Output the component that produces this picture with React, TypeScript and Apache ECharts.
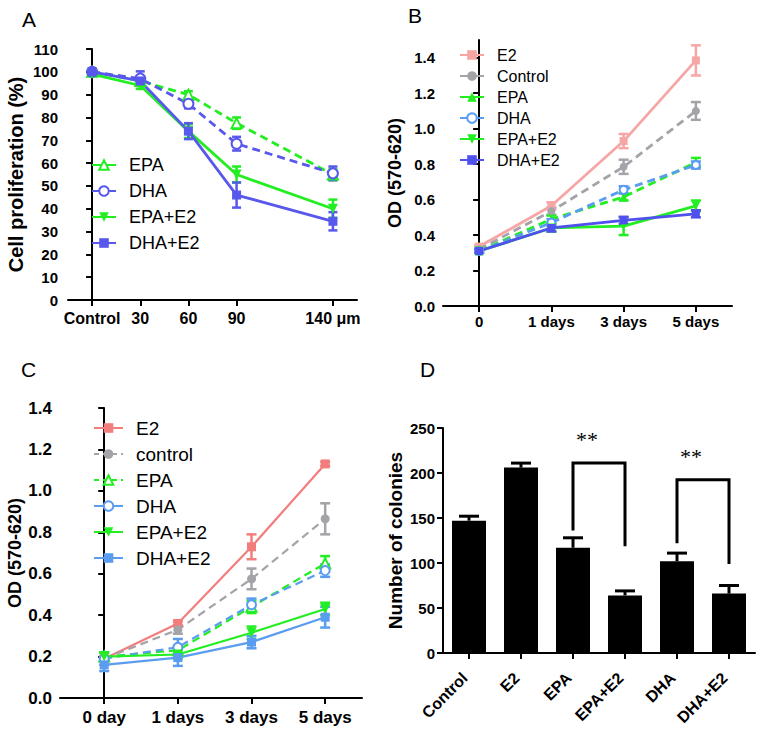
import React, { useEffect, useRef } from 'react';
import * as echarts from 'echarts';

// ---------- Panel A ----------
const aXPos = [0, 1, 2, 3, 5];
const aXLabels = ['Control', '30', '60', '90', '140 μm'];
const aYTicks = [0, 10, 20, 30, 40, 50, 60, 70, 80, 90, 100, 110];
const aEPA = [100, 96, 90, 77.5, 55];
const aEPAErr = [0.5, 1.5, 1.5, 2.5, 2.5];
const aDHA = [100, 97, 86, 68.5, 55.5];
const aDHAErr = [0.5, 3.2, 2, 3, 3];
const aEPAE2 = [99, 94, 74, 55, 40];
const aEPAE2Err = [0.5, 1.5, 3, 3.5, 4];
const aDHAE2 = [100, 96, 74, 46, 34.5];
const aDHAE2Err = [0.5, 2, 3.5, 5.5, 4];

// ---------- Panel B ----------
const bXPos = [0, 1, 2, 3];
const bXLabels = ['0', '1 days', '3 days', '5 days'];
const bYTicks = [0, 0.2, 0.4, 0.6, 0.8, 1.0, 1.2, 1.4];
const bE2 = [0.335, 0.565, 0.93, 1.385];
const bE2Err = [0.01, 0.02, 0.04, 0.085];
const bControl = [0.32, 0.535, 0.785, 1.1];
const bControlErr = [0.01, 0.02, 0.04, 0.05];
const bEPA = [0.31, 0.49, 0.615, 0.81];
const bEPAErr = [0.01, 0.02, 0.02, 0.025];
const bDHA = [0.31, 0.47, 0.655, 0.795];
const bDHAErr = [0.01, 0.02, 0.02, 0.02];
const bEPAE2 = [0.31, 0.44, 0.45, 0.565];
const bEPAE2Err = [0.01, 0.02, 0.05, 0.03];
const bDHAE2 = [0.31, 0.44, 0.483, 0.52];
const bDHAE2Err = [0.01, 0.02, 0.02, 0.02];

// ---------- Panel C ----------
const cXPos = [0, 1, 2, 3];
const cXLabels = ['0 day', '1 days', '3 days', '5 days'];
const cYTicks = [0, 0.2, 0.4, 0.6, 0.8, 1.0, 1.2, 1.4];
const cE2 = [0.19, 0.36, 0.73, 1.13];
const cE2Err = [0.01, 0.01, 0.06, 0.01];
const cControl = [0.19, 0.33, 0.575, 0.865];
const cControlErr = [0.01, 0.02, 0.05, 0.075];
const cEPA = [0.2, 0.23, 0.44, 0.65];
const cEPAErr = [0.02, 0.02, 0.03, 0.035];
const cDHA = [0.19, 0.245, 0.45, 0.615];
const cDHAErr = [0.03, 0.04, 0.03, 0.03];
const cEPAE2 = [0.2, 0.21, 0.315, 0.43];
const cEPAE2Err = [0.02, 0.02, 0.03, 0.03];
const cDHAE2 = [0.16, 0.195, 0.27, 0.39];
const cDHAE2Err = [0.03, 0.04, 0.03, 0.05];

// ---------- Panel D ----------
const dCats = ['Control', 'E2', 'EPA', 'EPA+E2', 'DHA', 'DHA+E2'];
const dValues = [147, 206, 117, 64, 102, 66];
const dErr = [5, 5, 11, 5, 9, 9];
const dBracketFrom = [2, 4];
const dBracketTo = [3, 5];
const dBracketTop = [211, 192.6];
const dBracketLeftEnd = [136, 122];
const dBracketRightEnd = [118.5, 99];
const dStarY = [237, 218];
const dStarText = ['**', '**'];

const FONT = "'Liberation Sans', Arial, sans-serif";
const GREEN = '#22ee22';
const BLUE_A = '#5858ec';
const PINK_B = '#f7a6a6';
const GRAY = '#a3a3a8';
const LBLUE = '#5a9cf0';
const PURPLE = '#5050ee';
const SALMON = '#f27d7d';
const DOWN_TRI = 'path://M0,0L10,0L5,9Z';

function errSeries(idx: number, color: string, xs: number[], means: number[], errs: number[], cap: number, lw: number, upperOnly = false) {
  return {
    type: 'custom',
    xAxisIndex: idx,
    yAxisIndex: idx,
    silent: true,
    z: 4,
    data: means.map((m, i) => [xs[i], upperOnly ? m : m - errs[i], m + errs[i]]),
    encode: { x: 0, y: [1, 2] },
    renderItem: (_p: any, api: any) => {
      const x = api.value(0);
      const p1 = api.coord([x, api.value(2)]);
      const p2 = api.coord([x, api.value(1)]);
      const h = cap / 2;
      const style = { stroke: color, lineWidth: lw, fill: null };
      const children: any[] = [
        { type: 'line', shape: { x1: p1[0], y1: p1[1], x2: p2[0], y2: p2[1] }, style },
        { type: 'line', shape: { x1: p1[0] - h, y1: p1[1], x2: p1[0] + h, y2: p1[1] }, style },
      ];
      if (!upperOnly) {
        children.push({ type: 'line', shape: { x1: p2[0] - h, y1: p2[1], x2: p2[0] + h, y2: p2[1] }, style });
      }
      return { type: 'group', children };
    },
  };
}

function lineSeries(name: string, idx: number, color: string, xs: number[], ys: number[], dashed: boolean, symbol: string, size: number, lw: number) {
  return {
    type: 'line',
    name,
    xAxisIndex: idx,
    yAxisIndex: idx,
    data: ys.map((y, i) => [xs[i], y]),
    symbol,
    symbolSize: size,
    showSymbol: true,
    lineStyle: { color, width: lw, type: dashed ? [8, 5] : 'solid' },
    itemStyle: { color },
    z: 5,
  };
}

const axisLine = { show: true, lineStyle: { color: '#000', width: 2 } };
const axisTick = (vals?: number[]) => ({
  show: true,
  inside: false,
  length: 6,
  lineStyle: { color: '#000', width: 2 },
  ...(vals ? { customValues: vals } : {}),
});

function legend(prefix: string, names: string[], dashedNames: string[], left: number, top: number, fontSize: number, lineHeight: number, gap: number, itemWidth: number) {
  return {
    orient: 'vertical',
    left,
    top,
    itemWidth,
    itemHeight: 12,
    itemGap: gap,
    selectedMode: false,
    data: names.map((n) => ({ name: prefix + '|' + n, lineStyle: { type: dashedNames.includes(n) ? [5, 4] : 'solid' } })),
    formatter: (n: string) => n.split('|')[1],
    textStyle: { fontSize, fontFamily: FONT, color: '#000', lineHeight, padding: [0, 0, 0, 8] },
  };
}

export default function App() {
  const ref = useRef<HTMLDivElement>(null);
  useEffect(() => {
    if (!ref.current) return;
    const chart = echarts.init(ref.current, undefined, { renderer: 'svg' });
    const titleStyle = { fontSize: 21, fontWeight: 'normal', color: '#000', fontFamily: FONT };
    const option: any = {
      animation: false,
      backgroundColor: '#fff',
      title: [
        { text: 'A', left: 22, top: 9, textStyle: titleStyle, padding: 0 },
        { text: 'B', left: 408, top: 5, textStyle: titleStyle, padding: 0 },
        { text: 'C', left: 21, top: 359, textStyle: titleStyle, padding: 0 },
        { text: 'D', left: 420, top: 359, textStyle: titleStyle, padding: 0 },
      ],
      legend: [
        legend('A', ['EPA', 'DHA', 'EPA+E2', 'DHA+E2'], [], 86, 150, 18, 20, 6, 24),
        legend('B', ['E2', 'Control', 'EPA', 'DHA', 'EPA+E2', 'DHA+E2'], [], 454, 42, 16, 16, 5, 24),
        legend('C', ['E2', 'control', 'EPA', 'DHA', 'EPA+E2', 'DHA+E2'], ['control', 'EPA'], 88, 413, 19, 20, 6, 29),
      ],
      grid: [
        { left: 68, top: 49, width: 289, height: 251, containLabel: false },
        { left: 443, top: 40, width: 289, height: 266, containLabel: false },
        { left: 60, top: 408, width: 302, height: 290, containLabel: false },
        { left: 443, top: 428, width: 312, height: 225, containLabel: false },
      ],
      xAxis: [
        {
          type: 'value', gridIndex: 0, min: -0.5, max: 5.5, splitLine: { show: false }, axisLine, axisTick: axisTick(aXPos),
          axisLabel: { customValues: aXPos, margin: 10, formatter: (v: number) => aXLabels[aXPos.indexOf(v)] ?? '', fontSize: 16, fontWeight: 'bold', color: '#000', fontFamily: FONT },
        },
        {
          type: 'value', gridIndex: 1, min: -0.5, max: 3.5, splitLine: { show: false }, axisLine, axisTick: axisTick(bXPos),
          axisLabel: { customValues: bXPos, margin: 8, formatter: (v: number) => bXLabels[bXPos.indexOf(v)] ?? '', fontSize: 15, fontWeight: 'bold', color: '#000', fontFamily: FONT },
        },
        {
          type: 'value', gridIndex: 2, min: -0.6, max: 3.5, splitLine: { show: false }, axisLine, axisTick: axisTick(cXPos),
          axisLabel: { customValues: cXPos, margin: 11, formatter: (v: number) => cXLabels[cXPos.indexOf(v)] ?? '', fontSize: 17, fontWeight: 'bold', color: '#000', fontFamily: FONT },
        },
        {
          type: 'category', gridIndex: 3, data: dCats, axisLine, axisTick: { ...axisTick(), alignWithLabel: true },
          axisLabel: { rotate: 45, margin: 18, fontSize: 16, fontWeight: 'bold', color: '#000', fontFamily: FONT, interval: 0, padding: [0, 6, 12, 0] },
        },
      ],
      yAxis: [
        {
          type: 'value', gridIndex: 0, min: 0, max: 110, interval: 10, splitLine: { show: false }, axisLine, axisTick: axisTick(aYTicks),
          axisLabel: { customValues: aYTicks, margin: 10, fontSize: 15, fontWeight: 'bold', color: '#000', fontFamily: FONT },
          name: 'Cell proliferation (%)', nameLocation: 'middle', nameGap: 42,
          nameTextStyle: { fontSize: 20, fontWeight: 'bold', color: '#000', fontFamily: FONT },
        },
        {
          type: 'value', gridIndex: 1, min: 0, max: 1.5, splitLine: { show: false }, axisLine, axisTick: axisTick(bYTicks),
          axisLabel: { customValues: bYTicks, margin: 8, formatter: (v: number) => v.toFixed(1), fontSize: 15, fontWeight: 'bold', color: '#000', fontFamily: FONT },
          name: 'OD (570-620)', nameLocation: 'middle', nameGap: 39,
          nameTextStyle: { fontSize: 18, fontWeight: 'bold', color: '#000', fontFamily: FONT },
        },
        {
          type: 'value', gridIndex: 2, min: 0, max: 1.4, splitLine: { show: false }, axisLine, axisTick: axisTick(cYTicks),
          axisLabel: { customValues: cYTicks, margin: 8, formatter: (v: number) => v.toFixed(1), fontSize: 17, fontWeight: 'bold', color: '#000', fontFamily: FONT },
          name: 'OD (570-620)', nameLocation: 'middle', nameGap: 36,
          nameTextStyle: { fontSize: 18, fontWeight: 'bold', color: '#000', fontFamily: FONT },
        },
        {
          type: 'value', gridIndex: 3, min: 0, max: 250, interval: 50, splitLine: { show: false }, axisLine, axisTick: axisTick(),
          axisLabel: { margin: 8, fontSize: 15, fontWeight: 'bold', color: '#000', fontFamily: FONT },
          name: 'Number of colonies', nameLocation: 'middle', nameGap: 38,
          nameTextStyle: { fontSize: 19, fontWeight: 'bold', color: '#000', fontFamily: FONT },
        },
      ],
      series: [
        // A
        errSeries(0, GREEN, aXPos, aEPA, aEPAErr, 9, 2.5),
        errSeries(0, BLUE_A, aXPos, aDHA, aDHAErr, 9, 2.5),
        errSeries(0, GREEN, aXPos, aEPAE2, aEPAE2Err, 9, 2.5),
        errSeries(0, BLUE_A, aXPos, aDHAE2, aDHAE2Err, 9, 2.5),
        lineSeries('A|EPA', 0, GREEN, aXPos, aEPA, true, 'emptyTriangle', 10, 2.8),
        lineSeries('A|DHA', 0, BLUE_A, aXPos, aDHA, true, 'emptyCircle', 10, 2.8),
        lineSeries('A|EPA+E2', 0, GREEN, aXPos, aEPAE2, false, DOWN_TRI, 10, 2.8),
        lineSeries('A|DHA+E2', 0, BLUE_A, aXPos, aDHAE2, false, 'rect', 9, 2.8),
        // B
        errSeries(1, PINK_B, bXPos, bE2, bE2Err, 10, 2.5),
        errSeries(1, GRAY, bXPos, bControl, bControlErr, 10, 2.5),
        errSeries(1, GREEN, bXPos, bEPA, bEPAErr, 10, 2.5),
        errSeries(1, LBLUE, bXPos, bDHA, bDHAErr, 10, 2.5),
        errSeries(1, GREEN, bXPos, bEPAE2, bEPAE2Err, 10, 2.5),
        errSeries(1, PURPLE, bXPos, bDHAE2, bDHAE2Err, 10, 2.5),
        lineSeries('B|E2', 1, PINK_B, bXPos, bE2, false, 'rect', 8, 2.8),
        lineSeries('B|Control', 1, GRAY, bXPos, bControl, true, 'circle', 8, 2.8),
        lineSeries('B|EPA', 1, GREEN, bXPos, bEPA, true, 'triangle', 9, 2.8),
        lineSeries('B|DHA', 1, LBLUE, bXPos, bDHA, true, 'emptyCircle', 8, 2.8),
        lineSeries('B|EPA+E2', 1, GREEN, bXPos, bEPAE2, false, DOWN_TRI, 9, 2.8),
        lineSeries('B|DHA+E2', 1, PURPLE, bXPos, bDHAE2, false, 'rect', 8, 2.8),
        // C
        errSeries(2, SALMON, cXPos, cE2, cE2Err, 10, 2.5),
        errSeries(2, GRAY, cXPos, cControl, cControlErr, 10, 2.5),
        errSeries(2, GREEN, cXPos, cEPA, cEPAErr, 10, 2.5),
        errSeries(2, LBLUE, cXPos, cDHA, cDHAErr, 10, 2.5),
        errSeries(2, GREEN, cXPos, cEPAE2, cEPAE2Err, 10, 2.5),
        errSeries(2, LBLUE, cXPos, cDHAE2, cDHAE2Err, 10, 2.5),
        lineSeries('C|E2', 2, SALMON, cXPos, cE2, false, 'rect', 9, 2.2),
        lineSeries('C|control', 2, GRAY, cXPos, cControl, true, 'circle', 9, 2.2),
        lineSeries('C|EPA', 2, GREEN, cXPos, cEPA, true, 'emptyTriangle', 10, 2.2),
        lineSeries('C|DHA', 2, LBLUE, cXPos, cDHA, true, 'emptyCircle', 9, 2.2),
        lineSeries('C|EPA+E2', 2, GREEN, cXPos, cEPAE2, false, DOWN_TRI, 10, 2.2),
        lineSeries('C|DHA+E2', 2, LBLUE, cXPos, cDHAE2, false, 'rect', 9, 2.2),
        // D
        {
          type: 'bar', xAxisIndex: 3, yAxisIndex: 3, data: dValues, barWidth: 34,
          itemStyle: { color: '#000' }, z: 3,
        },
        errSeries(3, '#000', dCats.map((_, i) => i), dValues, dErr, 20, 3, true),
        {
          type: 'custom', xAxisIndex: 3, yAxisIndex: 3, silent: true, z: 6,
          data: dBracketFrom.map((f, i) => [f, dBracketTo[i], dBracketTop[i], dBracketLeftEnd[i], dBracketRightEnd[i], dStarY[i]]),
          encode: { x: [0, 1], y: [2, 3, 4, 5] },
          renderItem: (p: any, api: any) => {
            const a = api.coord([api.value(0), api.value(3)]);
            const b = api.coord([api.value(0), api.value(2)]);
            const c = api.coord([api.value(1), api.value(2)]);
            const d = api.coord([api.value(1), api.value(4)]);
            const s = api.coord([api.value(0), api.value(5)]);
            const mid = (b[0] + c[0]) / 2;
            return {
              type: 'group',
              children: [
                { type: 'polyline', shape: { points: [a, b, c, d] }, style: { stroke: '#000', lineWidth: 3, fill: null } },
                {
                  type: 'text', x: mid - 12, y: s[1],
                  style: { text: dStarText[p.dataIndex], fill: '#000', fontSize: 22, fontFamily: "'Liberation Serif', serif", align: 'center', verticalAlign: 'middle' },
                },
              ],
            };
          },
        },
      ],
    };
    chart.setOption(option);
    return () => chart.dispose();
  }, []);
  return <div ref={ref} style={{ position: 'absolute', left: 0, top: 0, width: 760, height: 732, background: '#fff' }} />;
}
